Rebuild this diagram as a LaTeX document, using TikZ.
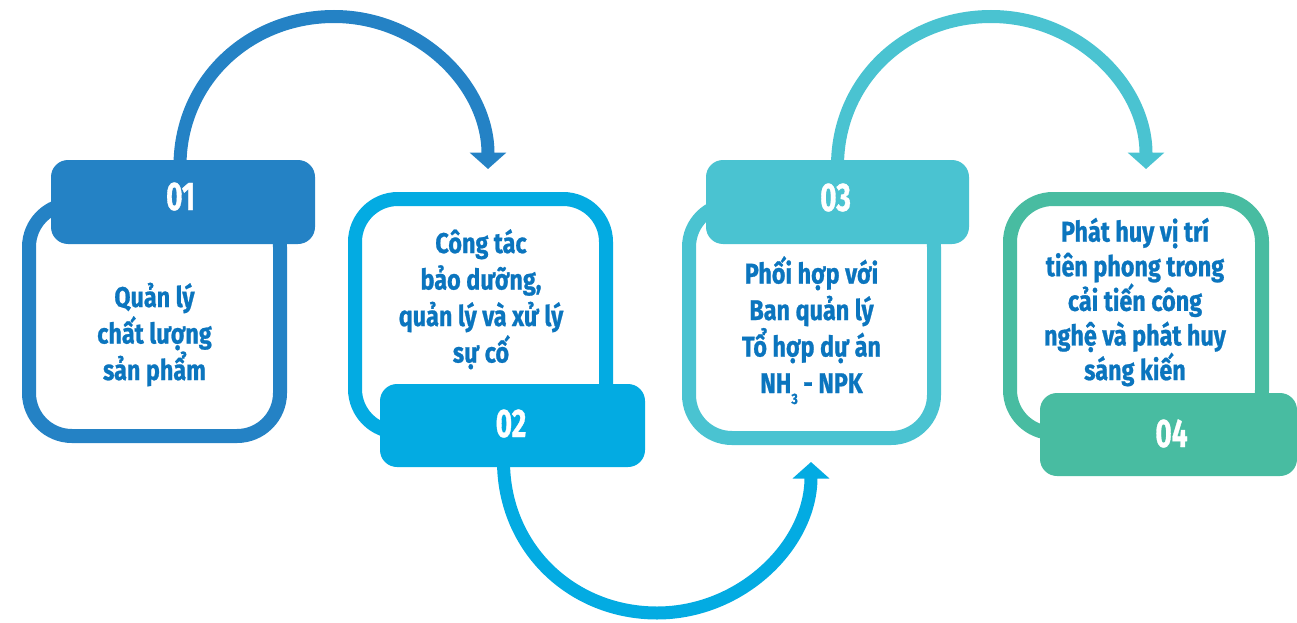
\documentclass[tikz,border=0pt]{standalone}
\usepackage{fontspec}
\newfontfamily\lbl{Fira Sans}[FakeStretch=0.82,FakeBold=0.8]
\newfontfamily\numfont{Fira Sans}[FakeStretch=0.70,FakeBold=0.8]
\usetikzlibrary{arrows.meta}
\definecolor{cA}{RGB}{36,130,197}
\definecolor{cB}{RGB}{3,171,226}
\definecolor{cC}{RGB}{74,195,209}
\definecolor{cD}{RGB}{72,188,161}
\definecolor{txt}{RGB}{11,117,190}
\pgfdeclarelayer{back}
\pgfsetlayers{back,main}
\begin{document}
\begin{tikzpicture}[x=1pt,y=-1pt,
  frame/.style={draw=#1, line width=14pt, fill=white, rounded corners=43pt, inner sep=0pt},
  tab/.style={fill=#1, rounded corners=17pt, inner sep=0pt},
  body/.style={text=txt, font=\lbl\bfseries\fontsize{28.5}{36.5}\selectfont, align=center, inner sep=0pt, anchor=base},
  num/.style={text=white, font=\numfont\bfseries\fontsize{40}{40}\selectfont, inner sep=0pt, anchor=base},
  link/.style={draw=#1, line width=13pt, -{Triangle[width=36pt,length=16.5pt]}}]
\useasboundingbox (0,0) rectangle (1297,623);

% step 1
\node[frame=cA, minimum width=251pt, minimum height=232pt] (f1) at (154.5,320) {};
\node[tab=cA, minimum width=264pt, minimum height=84pt] (tab1) at (183,202) {};
\node[num] (n1) at (180.5,210) {01};
\node[body] (t1) at (154.5,380) {Quản lý\\chất lượng\\sản phẩm};

% step 2
\node[frame=cB, minimum width=251pt, minimum height=233pt] (f2) at (480.5,315.5) {};
\node[tab=cB, minimum width=265pt, minimum height=83pt] (tab2) at (512.5,425.5) {};
\node[num] (n2) at (511,437) {02};
\node[body] (t2) at (481,362.5) {Công tác\\bảo dưỡng,\\quản lý và xử lý\\sự cố};

% step 3
\node[frame=cC, minimum width=245pt, minimum height=234pt] (f3) at (811.5,321) {};
\node[tab=cC, minimum width=263pt, minimum height=84pt] (tab3) at (837.5,202) {};
\node[num] (n3) at (835.5,211) {03};
\node[body] (t3) at (811.5,393) {Phối hợp với\\Ban quản lý\\Tổ hợp dự án\\NH\raisebox{-11pt}{\fontsize{15}{15}\selectfont 3} - NPK};

% step 4
\node[frame=cD, minimum width=252pt, minimum height=234pt] (f4) at (1136,316) {};
\node[tab=cD, minimum width=257pt, minimum height=83pt] (tab4) at (1168.5,434.5) {};
\node[num] (n4) at (1171.5,447) {04};
\node[body, font=\lbl\bfseries\fontsize{28.5}{34.6}\selectfont] (t4) at (1135,380) {Phát huy vị trí\\tiên phong trong\\cải tiến công\\nghệ và phát huy\\sáng kiến};

% connectors between the steps
\coordinate (m1) at (334,16.5);
\coordinate (e1) at (488,169);
\coordinate (m2) at (657,613);
\coordinate (e2) at (811,462);
\coordinate (m3) at (991,16.5);
\coordinate (e3) at (1146,169);
\begin{pgfonlayer}{back}
\draw[link=cA] ([xshift=-3pt,yshift=-6pt]tab1.north) .. controls +(0,-85) and +(-85,0) .. (m1)
  .. controls +(85,0) and +(0,-84) .. (e1);
\draw[link=cB] ([xshift=-9pt,yshift=6pt]tab2.south) .. controls +(0,87) and +(-85,0) .. (m2)
  .. controls +(84,0) and +(0,83) .. (e2);
\draw[link=cC] ([yshift=-6pt]tab3.north) .. controls +(0,-85) and +(-85,0) .. (m3)
  .. controls +(86,0) and +(0,-84) .. (e3);
\end{pgfonlayer}
\end{tikzpicture}
\end{document}
